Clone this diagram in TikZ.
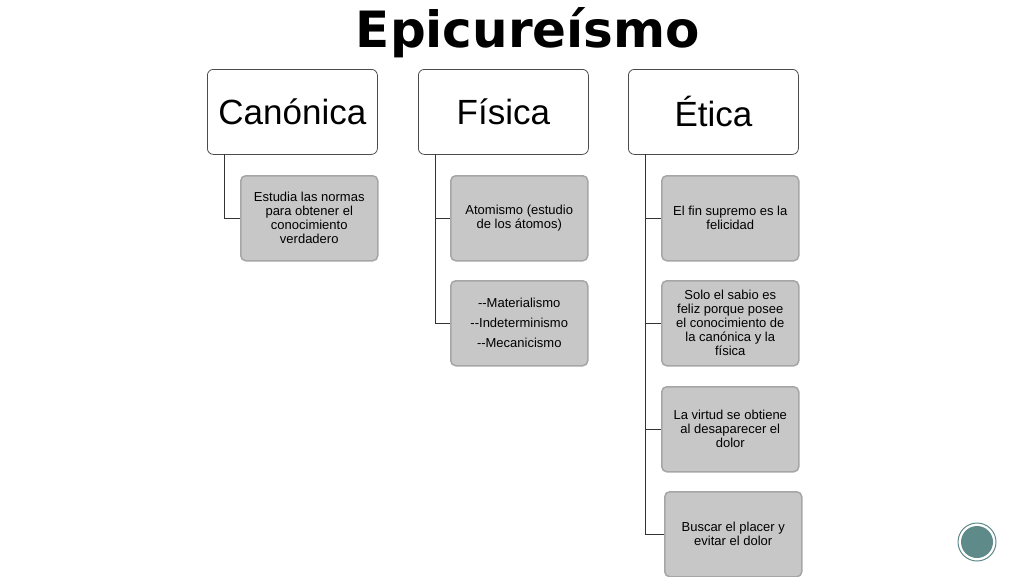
\documentclass[tikz,border=0pt]{standalone}
\usepackage{fontspec}
\setmainfont{Liberation Sans}
\newfontfamily\titlefont{DejaVu Sans}
\definecolor{dotc}{HTML}{5F8A8A}
\hyphenpenalty=10000
\begin{document}
\begin{tikzpicture}[x=1pt,y=-1pt,
  head/.style={draw=black!70,rounded corners=6pt,fill=white,minimum width=170pt,minimum height=85pt,font=\fontsize{35}{40}\selectfont,anchor=north west,line width=0.8pt},
  child/.style={draw=gray!70,line width=1.5pt,rounded corners=5pt,fill=black!22,minimum width=137pt,minimum height=85pt,align=center,font=\fontsize{13}{14}\selectfont,anchor=north west},
  conn/.style={draw=black!80,line width=0.8pt}]
\useasboundingbox (0,0) rectangle (1024,576);
\fill[white] (0,0) rectangle (1024,576);
\node[font=\titlefont\bfseries\fontsize{50}{56}\selectfont] (title) at (528,33) {Epicureísmo};
\node[head] (h1) at (207,69) {Canónica};
\node[head] (h2) at (418,69) {Física};
\node[head] (h3) at (628,69) {Ética};
\node[child] (c1) at (240,175) {Estudia las normas\\para obtener el\\conocimiento\\verdadero};
\node[child] (f1) at (450,175) {Atomismo (estudio\\de los átomos)};
\node[child,font=\fontsize{13}{20}\selectfont] (f2) at (450,280) {-{}-Materialismo\\-{}-Indeterminismo\\-{}-Mecanicismo};
\node[child] (e1) at (661,175) {El fin supremo es la\\felicidad};
\node[child] (e2) at (661,280) {Solo el sabio es\\feliz porque posee\\el conocimiento de\\la canónica y la\\física};
\node[child] (e3) at (661,386) {La virtud se obtiene\\al desaparecer el\\dolor};
\node[child] (e4) at (664,491) {Buscar el placer y\\evitar el dolor};
\coordinate (k1) at (224,154);
\coordinate (k2) at (435,154);
\coordinate (k3) at (645,154);
\draw[conn] (k1) |- (c1.west);
\draw[conn] (k2) |- (f2.west);
\draw[conn] (k2) |- (f1.west);
\draw[conn] (k3) |- (e4.west);
\draw[conn] (k3 |- e1.west) -- (e1.west);
\draw[conn] (k3 |- e2.west) -- (e2.west);
\draw[conn] (k3 |- e3.west) -- (e3.west);
\node[circle,draw=dotc,line width=1pt,minimum size=38pt,fill=white] (dot) at (977,542) {};
\fill[dotc] (dot.center) circle (16);
\end{tikzpicture}
\end{document}
